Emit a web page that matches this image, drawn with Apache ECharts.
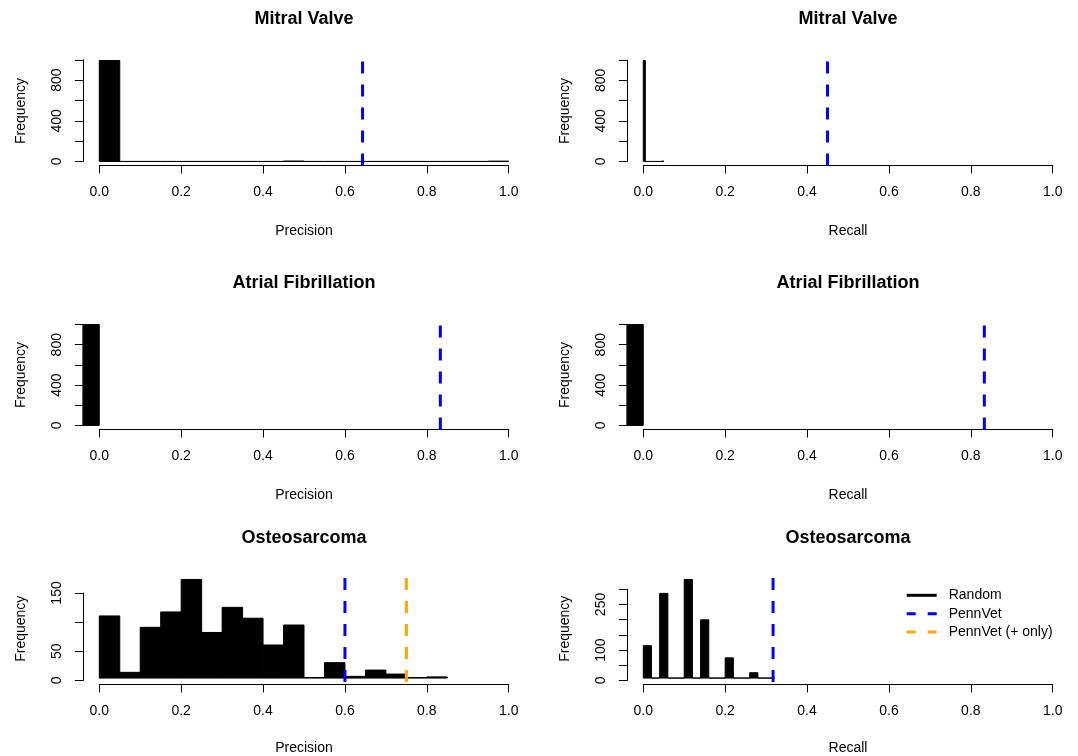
<!DOCTYPE html>
<html><head><meta charset="utf-8">
<script src="https://cdn.jsdelivr.net/npm/echarts@6/dist/echarts.min.js"></script>
<style>html,body{margin:0;padding:0;background:#fff}#c{width:1078px;height:756px}</style>
</head><body><div id="c"></div>
<script>
// ---------------- data ----------------
const panelTitles = ['Mitral Valve', 'Mitral Valve', 'Atrial Fibrillation', 'Atrial Fibrillation', 'Osteosarcoma', 'Osteosarcoma'];
const panelXNames = ['Precision', 'Recall', 'Precision', 'Recall', 'Precision', 'Recall'];
const yAxisName = 'Frequency';

const mitralPrecisionEdges = [0, 0.05, 0.1, 0.15, 0.2, 0.25, 0.3, 0.35, 0.4, 0.45, 0.5, 0.55, 0.6, 0.65, 0.7, 0.75, 0.8, 0.85, 0.9, 0.95, 1.0];
const mitralPrecisionCounts = [993, 0, 0, 0, 0, 0, 0, 0, 0, 4, 0, 0, 0, 0, 0, 0, 0, 0, 0, 3];
const mitralRecallEdges = [0, 0.005, 0.01, 0.015, 0.02, 0.025, 0.03, 0.035, 0.04, 0.045, 0.05];
const mitralRecallCounts = [996, 0, 0, 0, 0, 0, 0, 0, 0, 4];
const afPrecisionEdges = [-0.05, 0];
const afPrecisionCounts = [1000];
const afRecallEdges = [-0.05, 0];
const afRecallCounts = [1000];
const osteoPrecisionEdges = [0, 0.05, 0.1, 0.15, 0.2, 0.25, 0.3, 0.35, 0.4, 0.45, 0.5, 0.55, 0.6, 0.65, 0.7, 0.75, 0.8, 0.85];
const osteoPrecisionCounts = [109, 10, 89, 116, 173, 80, 124, 105, 58, 93, 1, 27, 3, 14, 7, 1, 2];
const osteoRecallEdges = [0, 0.02, 0.04, 0.06, 0.08, 0.1, 0.12, 0.14, 0.16, 0.18, 0.2, 0.22, 0.24, 0.26, 0.28, 0.3, 0.32];
const osteoRecallCounts = [109, 0, 285, 0, 0, 332, 0, 196, 0, 0, 68, 0, 0, 18, 0, 0];

// PennVet observed values (vertical dashed lines), per panel
const pennVetValues = [0.643, 0.45, 0.833, 0.833, 0.6, 0.317];
const pennVetPlusOnlyValues = [null, null, null, null, 0.75, null];

// y-axis ticks
const yTickMax = [1000, 1000, 1000, 1000, 150, 300];
const yTickStep = [200, 200, 200, 200, 50, 50];
const yShownLabels = [[0, 400, 800], [0, 400, 800], [0, 400, 800], [0, 400, 800], [0, 50, 150], [0, 100, 250]];
const xTickStep = 0.2;

const legendNames = ['Random', 'PennVet', 'PennVet (+ only)'];

// ---------------- layout ----------------
const FONT = '"Liberation Sans", Arial, Helvetica, sans-serif';
const colLeft = [82.9, 626.9];
const plotW = 442.2;
const rowTop = [56.5, 320.5, 575.5];
const plotH = 109;
const xMin = -0.04, xMax = 1.04;

const edgesList = [mitralPrecisionEdges, mitralRecallEdges, afPrecisionEdges, afRecallEdges, osteoPrecisionEdges, osteoRecallEdges];
const countsList = [mitralPrecisionCounts, mitralRecallCounts, afPrecisionCounts, afRecallCounts, osteoPrecisionCounts, osteoRecallCounts];

const option = {
  animation: false,
  backgroundColor: '#fff',
  grid: [], xAxis: [], yAxis: [], series: [], graphic: [],
  legend: {
    orient: 'vertical', left: 906.7, top: 586.3, padding: 0,
    itemWidth: 30, itemHeight: 3, itemGap: 0.4,
    textStyle: { fontSize: 14, fontFamily: FONT, color: '#000', lineHeight: 18, padding: [0, 0, 0, 7] },
    data: [
      { name: legendNames[0], icon: 'path://M0,0H30V3H0Z' },
      { name: legendNames[1], icon: 'path://M0,0H9V3H0Z M21,0H30V3H21Z' },
      { name: legendNames[2], icon: 'path://M0,0H9V3H0Z M21,0H30V3H21Z' }
    ]
  }
};

function histRender(params, api) {
  const a = api.coord([api.value(0), api.value(2)]);
  const b = api.coord([api.value(1), 0]);
  const cs = params.coordSys;
  const r = echarts.graphic.clipRectByRect(
    { x: a[0], y: a[1], width: b[0] - a[0], height: b[1] - a[1] },
    { x: cs.x, y: cs.y, width: cs.width, height: cs.height });
  if (!r) return null;
  return { type: 'rect', shape: r, style: { fill: '#000', stroke: '#000', lineWidth: 1 } };
}

for (let p = 0; p < 6; p++) {
  const r = Math.floor(p / 2), c = p % 2;
  const L = colLeft[c], T = rowTop[r], B = T + plotH;
  const counts = countsList[p], edges = edgesList[p];
  const maxC = Math.max(...counts);
  const yMin = -0.04 * maxC, yMax = 1.04 * maxC;
  const toPx = v => L + (v - xMin) / (xMax - xMin) * plotW;
  const toPy = v => B - (v - yMin) / (yMax - yMin) * plotH;
  const x0 = toPx(0), x1 = toPx(1);
  const y0 = toPy(0), yt = toPy(yTickMax[p]);

  // data grid (plot region)
  option.grid.push({ left: L, top: T, width: plotW, height: plotH });
  // axis grid (R-style axes spanning the tick range)
  option.grid.push({ left: x0, top: yt, width: x1 - x0, height: y0 - yt });

  const gD = 2 * p, gA = 2 * p + 1;
  option.xAxis.push({
    gridIndex: gD, type: 'value', min: xMin, max: xMax,
    axisLine: { show: false }, axisTick: { show: false }, axisLabel: { show: false }, splitLine: { show: false },
    name: panelXNames[p], nameLocation: 'middle', nameGap: 59,
    nameTextStyle: { fontSize: 14, fontFamily: FONT, color: '#000' }
  });
  option.yAxis.push({
    gridIndex: gD, type: 'value', min: yMin, max: yMax,
    axisLine: { show: false }, axisTick: { show: false }, axisLabel: { show: false }, splitLine: { show: false },
    name: yAxisName, nameLocation: 'middle', nameGap: 55, nameRotate: 90,
    nameTextStyle: { fontSize: 14, fontFamily: FONT, color: '#000' }
  });
  const shown = yShownLabels[p];
  option.xAxis.push({
    gridIndex: gA, type: 'value', min: 0, max: 1, interval: xTickStep, offset: B - y0,
    axisLine: { show: true, onZero: false, lineStyle: { color: '#000', width: 1 } },
    axisTick: { show: true, length: 8, lineStyle: { color: '#000', width: 1 } },
    axisLabel: { margin: 20, fontSize: 14, fontFamily: FONT, color: '#000', formatter: v => v.toFixed(1) },
    splitLine: { show: false }
  });
  option.yAxis.push({
    gridIndex: gA, type: 'value', min: 0, max: yTickMax[p], interval: yTickStep[p], offset: x0 - L,
    axisLine: { show: true, onZero: false, lineStyle: { color: '#000', width: 1 } },
    axisTick: { show: true, length: 8, lineStyle: { color: '#000', width: 1 } },
    axisLabel: { margin: 19, rotate: 90, fontSize: 14, fontFamily: FONT, color: '#000',
      formatter: v => shown.indexOf(v) >= 0 ? String(v) : '' },
    splitLine: { show: false }
  });

  const histData = counts.map((n, i) => [edges[i], edges[i + 1], n]);
  option.series.push({
    type: 'custom', name: legendNames[0], xAxisIndex: 2 * p, yAxisIndex: 2 * p,
    itemStyle: { color: '#000' }, renderItem: histRender, data: histData,
    encode: { x: [0, 1], y: 2 }, silent: true
  });
  option.series.push({
    type: 'line', name: legendNames[1], xAxisIndex: 2 * p, yAxisIndex: 2 * p,
    color: '#0000FF', symbol: 'none', silent: true,
    lineStyle: { color: '#0000FF', width: 3, type: [12, 11], cap: 'butt' },
    data: [[pennVetValues[p], yMin], [pennVetValues[p], yMax]]
  });
  if (pennVetPlusOnlyValues[p] !== null) {
    option.series.push({
      type: 'line', name: legendNames[2], xAxisIndex: 2 * p, yAxisIndex: 2 * p,
      color: '#FFA500', symbol: 'none', silent: true,
      lineStyle: { color: '#FFA500', width: 3, type: [12, 11], cap: 'butt' },
      data: [[pennVetPlusOnlyValues[p], yMin], [pennVetPlusOnlyValues[p], yMax]]
    });
  }
  option.graphic.push({
    type: 'text', x: L + plotW / 2, y: T - 37,
    style: { text: panelTitles[p], font: 'bold 18px ' + FONT, fill: '#000',
      align: 'center', verticalAlign: 'middle', textAlign: 'center', textVerticalAlign: 'middle' }
  });
}

const chart = echarts.init(document.getElementById('c'), null, { renderer: 'canvas' });
chart.setOption(option);
</script>
</body></html>
